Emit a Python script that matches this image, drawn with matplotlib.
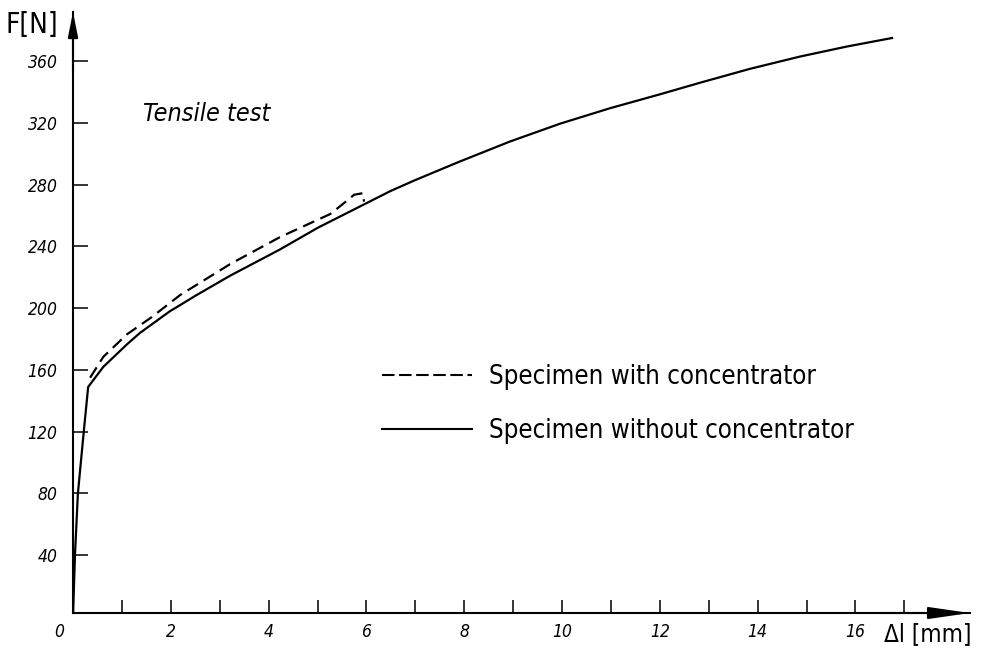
import matplotlib
matplotlib.use("Agg")
import matplotlib.pyplot as plt
from matplotlib.lines import Line2D

# ---- data ----
x_without = [0, 0.04, 0.10, 0.22, 0.31, 0.62, 1.10, 1.37, 1.98, 2.19, 2.5, 3.21, 4.23,
             5.0, 5.5, 6.0, 6.5, 7.0, 7.91, 8.94, 9.96, 10.98, 12.0, 12.82, 13.84,
             14.87, 15.83, 16.75]
f_without = [0, 40, 80, 120, 149, 162, 176.5, 184, 198, 202, 208, 221, 238,
             252, 260, 268, 276, 283, 295, 308, 319.5, 329.5, 338.5, 346, 355,
             363, 369.5, 375]

x_with = [0.35, 0.62, 1.10, 1.60, 2.19, 3.21, 4.23, 5.26, 5.5, 5.75, 5.93, 5.95]
f_with = [155, 168.5, 183, 194, 208.5, 228.5, 246, 261, 267, 273.5, 274.5, 269]

x_ticks_major = [0, 2, 4, 6, 8, 10, 12, 14, 16]
x_ticks_minor = [1, 3, 5, 7, 9, 11, 13, 15, 17]
y_ticks = [40, 80, 120, 160, 200, 240, 280, 320, 360]

label_with = "Specimen with concentrator"
label_without = "Specimen without concentrator"
title_text = "Tensile test"
y_label = "F[N]"
x_label = "\u0394l [mm]"

# ---- figure ----
W, H = 981, 648
fig = plt.figure(figsize=(W / 100, H / 100), dpi=100)
ax = fig.add_axes([73 / W, (H - 613) / H, (970 - 73) / W, (613 - 12) / H])

px_per_mm = 48.9
px_per_N = 1.544
ax.set_xlim(0, (970 - 73) / px_per_mm)
ax.set_ylim((617 - 613) / px_per_N, (617 - 12) / px_per_N)

num_font = dict(family="DejaVu Sans", stretch="condensed", style="oblique", size=12.5)
txt_font = dict(family="DejaVu Sans", stretch="condensed")

ax.plot(x_without, f_without, color="black", lw=1.6, solid_joinstyle="round")
ax.plot(x_with, f_with, color="black", lw=1.6, dashes=(5.5, 3))

for s in ["top", "right"]:
    ax.spines[s].set_visible(False)
for s in ["left", "bottom"]:
    ax.spines[s].set_linewidth(1.5)

# arrow heads
ax.annotate("", xy=(1.0, 0), xycoords="axes fraction", xytext=(0.9, 0),
            arrowprops=dict(arrowstyle="-|>,head_length=2.5,head_width=0.36",
                            color="black", lw=1.5, mutation_scale=10, shrinkA=0, shrinkB=0))
ax.annotate("", xy=(0, 1.0), xycoords="axes fraction", xytext=(0, 0.9),
            arrowprops=dict(arrowstyle="-|>,head_length=1.5,head_width=0.3",
                            color="black", lw=1.5, mutation_scale=10, shrinkA=0, shrinkB=0))

ax.set_xticks(x_ticks_major)
ax.set_xticks(x_ticks_minor, minor=True)
ax.set_xticklabels([""] + [str(v) for v in x_ticks_major[1:]], fontdict=num_font)
ax.set_yticks(y_ticks)
ax.set_yticklabels([str(v) for v in y_ticks], fontdict=num_font)
ax.tick_params(axis="x", which="both", direction="in", length=9.5, width=1.1, pad=7)
ax.tick_params(axis="y", which="both", direction="in", length=10.5, width=1.1, pad=11)

# "0" label at origin, shifted left
fig.text(59 / W, 1 - 632 / H, "0", ha="center", va="center", **num_font)

fig.text(5 / W, 1 - 25 / H, y_label, ha="left", va="center", fontsize=20, **txt_font)
fig.text(884 / W, 1 - 634 / H, x_label, ha="left", va="center", fontsize=17.5, **txt_font)

ax.text(1.43, 326, title_text, ha="left", va="center", fontsize=18,
        style="oblique", **txt_font)

handles = [Line2D([], [], color="black", lw=1.5, dashes=(6, 2.2)),
           Line2D([], [], color="black", lw=1.5)]
leg = ax.legend(handles, [label_with, label_without], frameon=False,
                loc="upper left", bbox_to_anchor=(382 / W, 1 - 364 / H),
                bbox_transform=fig.transFigure, borderaxespad=0, borderpad=0,
                handlelength=3.5, handletextpad=0.68, labelspacing=1.08,
                prop=dict(family="DejaVu Sans", stretch="condensed", size=18.5))

fig.savefig("out.png", dpi=100)
